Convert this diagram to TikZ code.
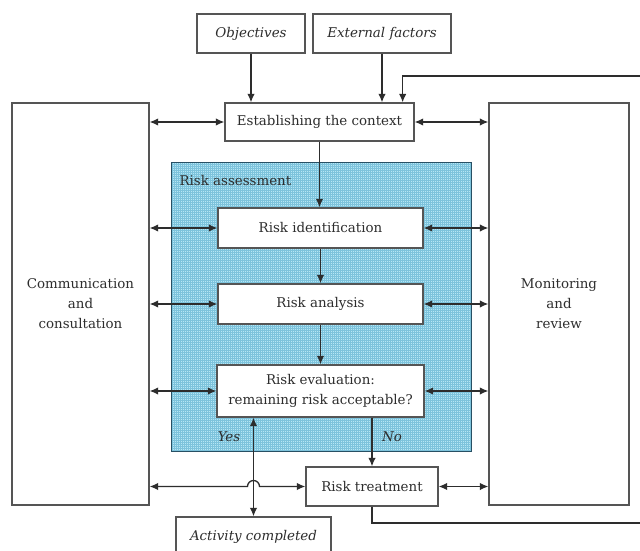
\documentclass[tikz,border=0pt]{standalone}
\usepackage{fontspec}
\setmainfont{DejaVu Serif}
\usetikzlibrary{arrows.meta,calc}
\definecolor{ink}{RGB}{45,45,45}
\definecolor{frame}{RGB}{85,85,85}
\definecolor{assessfill}{RGB}{182,230,244}
\definecolor{assessgrid}{RGB}{125,195,220}
\definecolor{assessline}{RGB}{40,80,100}
\tikzset{
  txt/.style={font=\fontsize{13.4}{20}\selectfont, text=ink},
  box/.style={draw=frame, line width=1.3pt, fill=white, inner sep=2pt, align=center, txt},
  ibox/.style={box, font=\fontsize{13.4}{20}\selectfont\itshape},
  tip/.tip={Latex[length=8.5pt,width=7.5pt]},
  flow/.style={draw=ink, line width=1.3pt, -tip},
  both/.style={draw=ink, line width=1.3pt, tip-tip},
  tag/.style={font=\fontsize{13.4}{20}\selectfont\itshape, text=ink}
}
\begin{document}
\begin{tikzpicture}[x=1pt,y=1pt]
\clip (0,0) rectangle (640,550);
\fill[white] (0,0) rectangle (640,550);

% shaded risk assessment area with a fine screen
\fill[assessfill] (171,99) rectangle (471,387);
\begin{scope}
  \clip (171,99) rectangle (471,387);
  \foreach \gx in {172,174,...,470} \draw[assessgrid, line width=0.5pt] (\gx,99) -- (\gx,387);
  \foreach \gy in {100,102,...,386} \draw[assessgrid, line width=0.5pt] (171,\gy) -- (471,\gy);
\end{scope}
\draw[assessline, line width=1pt] (171,99) rectangle (471,387);
\node[anchor=west, txt] (ralabel) at (176,369) {Risk assessment};

% inputs
\node[ibox, minimum width=108pt, minimum height=39pt] (obj) at (251,516.5) {Objectives};
\node[ibox, minimum width=138pt, minimum height=39pt] (ext) at (382,516.5) {External factors};

% main process
\node[box, minimum width=189pt, minimum height=38pt] (ctx) at (319.5,428) {Establishing the context};
\node[box, minimum width=205pt, minimum height=40pt] (rid) at (320.5,322) {Risk identification};
\node[box, minimum width=205pt, minimum height=40pt] (ran) at (320.5,246) {Risk analysis};
\node[box, minimum width=207pt, minimum height=52pt] (rev) at (320.5,159) {Risk evaluation:\\remaining risk acceptable?};
\node[box, minimum width=132pt, minimum height=39pt] (rtr) at (372,63.5) {Risk treatment};
\node[ibox, minimum width=155pt, minimum height=39pt] (act) at (253.5,13.5) {Activity completed};

% side columns
\node[box, minimum width=137pt, minimum height=402pt] (comm) at (80.5,246) {Communication\\and\\consultation};
\node[box, minimum width=140pt, minimum height=402pt] (mon) at (559,246) {Monitoring\\and\\review};

% inputs into context
\draw[flow] (obj.south) -- (obj.south |- ctx.north);
\draw[flow] (ext.south) -- (ext.south |- ctx.north);

% main flow
\draw[flow] (ctx.south) -- (ctx.south |- rid.north);
\draw[flow] (rid.south) -- (ran.north);
\draw[flow] (ran.south) -- (rev.north);
\draw[flow] (rev.south -| rtr.north) -- (rtr.north);
\draw[both] (act.north |- rev.south) -- (act.north);
\node[tag] (yes) at (229,113) {Yes};
\node[tag] (no) at (392,113) {No};

% feedback loop from treatment back to context
\coordinate (fbout) at (640,27);
\coordinate (fbin) at (640,474);
\draw[draw=ink, line width=1.3pt] (rtr.south) |- (fbout);
\draw[flow] (fbin) -| ([xshift=-12pt]ctx.north east);

% communication links
\draw[both] (comm.east |- ctx) -- (ctx.west);
\draw[both] (comm.east |- rid) -- (rid.west);
\draw[both] (comm.east |- ran) -- (ran.west);
\draw[both] (comm.east |- rev) -- (rev.west);
\draw[both] (comm.east |- rtr) -- ($(act.north |- rtr)+(-6,0)$)
  arc[start angle=180, end angle=0, radius=6pt] -- (rtr.west);

% monitoring links
\draw[both] (ctx.east) -- (mon.west |- ctx);
\draw[both] (rid.east) -- (mon.west |- rid);
\draw[both] (ran.east) -- (mon.west |- ran);
\draw[both] (rev.east) -- (mon.west |- rev);
\draw[both] (rtr.east) -- (mon.west |- rtr);
\end{tikzpicture}
\end{document}
